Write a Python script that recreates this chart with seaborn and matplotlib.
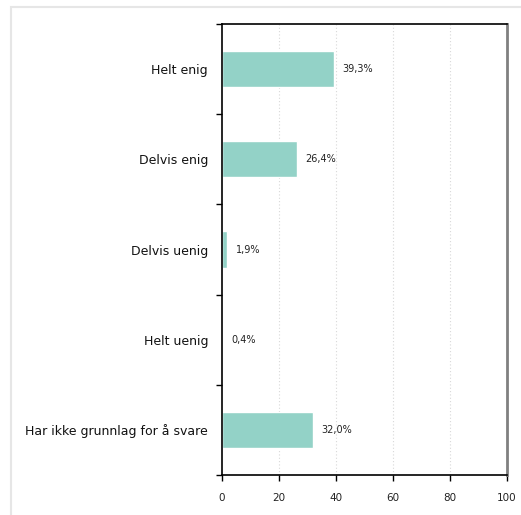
import matplotlib
matplotlib.use("Agg")
import matplotlib.pyplot as plt
import seaborn as sns
import pandas as pd
from matplotlib.patches import Rectangle

categories = ["Helt enig", "Delvis enig", "Delvis uenig", "Helt uenig",
              "Har ikke grunnlag for å svare"]
values = [39.3, 26.4, 1.9, 0.4, 32.0]
x_ticks = [0, 20, 40, 60, 80, 100]

sns.set_style("white")
plt.rcParams["font.family"] = ["DejaVu Sans"]

df = pd.DataFrame({"kategori": categories, "andel": values})

fig = plt.figure(figsize=(5.21, 5.15), dpi=100)
ax = fig.add_axes([222 / 521, 1 - 475 / 515, 285 / 521, 451 / 515])

sns.barplot(data=df, x="andel", y="kategori", orient="h", color="#93d2c7",
            saturation=1, width=0.4, ax=ax)

ax.set_xlim(0, 100)
ax.set_ylim(4.5, -0.5)
ax.set_xticks(x_ticks)
ax.set_xticklabels([str(t) for t in x_ticks], fontsize=7.5, color="#222222")
ax.tick_params(axis="x", length=4, width=1, color="#000000", pad=9,
               bottom=True)

ax.set_yticks(range(len(categories)))
ax.set_yticklabels(categories, fontsize=9, color="#111111")
ax.tick_params(axis="y", which="major", length=0, pad=10)
ax.set_yticks([i - 0.5 for i in range(len(categories) + 1)], minor=True)
ax.tick_params(axis="y", which="minor", length=4, width=1, color="#000000",
               left=True)

ax.set_xlabel("")
ax.set_ylabel("")

for x in x_ticks[1:-1]:
    ax.axvline(x, color="#d8d8d8", linestyle=(0, (1, 2)), linewidth=0.8,
               zorder=0)

for side in ["left", "bottom", "top"]:
    ax.spines[side].set_color("#000000")
    ax.spines[side].set_linewidth(1.2)
ax.spines["right"].set_color("#808080")
ax.spines["right"].set_linewidth(2)

for i, v in enumerate(values):
    ax.annotate(f"{v:.1f}".replace(".", ",") + "%", xy=(v, i),
                xytext=(6, 0), textcoords="offset points", va="center",
                ha="left", fontsize=7, color="#222222")

fig.patches.append(Rectangle((11 / 521, -0.1), 1.2, 1 - 7 / 515 + 0.1,
                             transform=fig.transFigure, fill=False,
                             edgecolor="#e6e6e6", linewidth=1.5))

fig.savefig("out.png", dpi=100, facecolor="white")
